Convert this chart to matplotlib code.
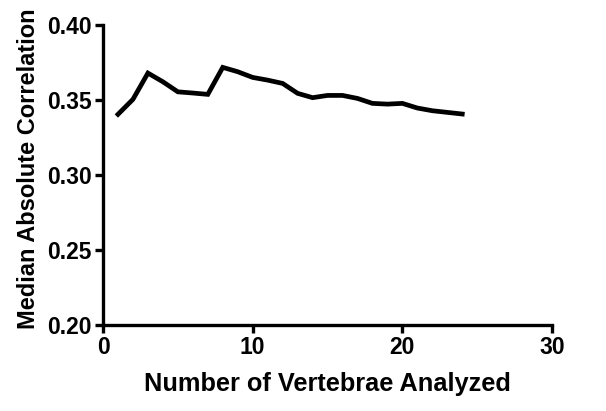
import matplotlib
matplotlib.use("Agg")
import matplotlib.pyplot as plt

# values
n_vertebrae = list(range(1, 25))
median_abs_corr = [0.3405, 0.3505, 0.3680, 0.3622, 0.3555, 0.3547, 0.3538, 0.3718,
                   0.3689, 0.3651, 0.3633, 0.3611, 0.3545, 0.3516, 0.3531, 0.3531,
                   0.3511, 0.3478, 0.3473, 0.3478, 0.3447, 0.3429, 0.3418, 0.3407]
x_ticks = [0, 10, 20, 30]
y_ticks = [0.20, 0.25, 0.30, 0.35, 0.40]

plt.rcParams['font.family'] = ['Liberation Sans', 'DejaVu Sans']
plt.rcParams['font.weight'] = 'bold'

fig = plt.figure(figsize=(6.06, 4.11), dpi=100)
ax = fig.add_axes([0.170, 0.209, 0.741, 0.730])

ax.plot(n_vertebrae, median_abs_corr, color='black', lw=3.4, solid_joinstyle='miter')

ax.set_xlim(0, 30)
ax.set_ylim(0.20, 0.40)
ax.set_xticks(x_ticks)
ax.set_yticks(y_ticks)
ax.set_xticklabels([str(t) for t in x_ticks])
ax.set_yticklabels([f"{t:.2f}" for t in y_ticks])

for s in ['top', 'right']:
    ax.spines[s].set_visible(False)
for s in ['left', 'bottom']:
    ax.spines[s].set_linewidth(2.4)
    ax.spines[s].set_capstyle('projecting')

ax.tick_params(axis='both', direction='out', length=6, width=2.4, labelsize=16.5, pad=2)
ax.set_xlabel("Number of Vertebrae Analyzed", fontsize=18.3, fontweight='bold', labelpad=9)
ax.set_ylabel("Median Absolute Correlation", fontsize=17, fontweight='bold')
ax.yaxis.set_label_coords(-0.14, 0.52)

fig.savefig("out.png", dpi=100)
